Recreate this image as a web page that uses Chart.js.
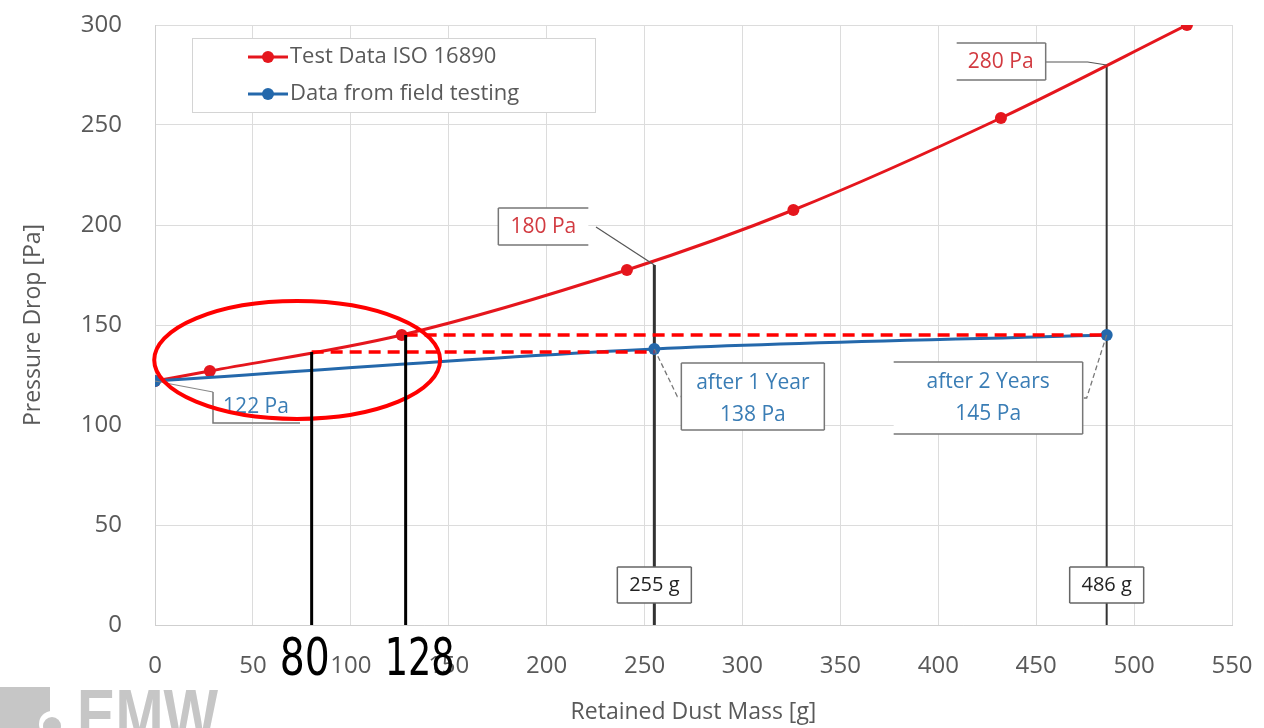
<!DOCTYPE html>
<html>
<head>
<meta charset="utf-8">
<script src="https://cdn.jsdelivr.net/npm/chart.js@4.4.1/dist/chart.umd.min.js"></script>
<style>
  html, body { margin: 0; padding: 0; background: #fff; }
</style>
</head>
<body>
<canvas id="myChart" width="1264" height="728"></canvas>
<script>
// values
const massTest = [0, 28, 126, 241, 326, 432, 527];
const dropTest = [122, 127, 145, 177.5, 207.5, 253.5, 300];
const massField = [0, 255, 486];
const dropField = [122, 138, 145];
const seriesNames = ["Test Data ISO 16890", "Data from field testing"];

// guides and labels drawn over the chart
const yearMass = [255, 486];
const yearTestDrop = [180, 280];
const yearLabels = [["after 1 Year", "138 Pa"], ["after 2 Years", "145 Pa"]];
const startDrop = 122;
const markMass = [80, 128];
const markDrop = [136.5, 145];
const markEnd = [255, 486];

const FONT = "'Open Sans', sans-serif";
const GREY = "#595959";
const RED = "#e5161d";
const BLUE = "#2468ab";
const LABEL_BLUE = "#3a7db5";
const LABEL_RED = "#d23a40";

function box(ctx, l, t, w, h, sides) {
  ctx.fillStyle = "#fff";
  ctx.fillRect(l, t, w, h);
  ctx.beginPath();
  if (sides.includes("t")) { ctx.moveTo(l, t); ctx.lineTo(l + w, t); }
  if (sides.includes("r")) { ctx.moveTo(l + w, t); ctx.lineTo(l + w, t + h); }
  if (sides.includes("b")) { ctx.moveTo(l, t + h); ctx.lineTo(l + w, t + h); }
  if (sides.includes("l")) { ctx.moveTo(l, t); ctx.lineTo(l, t + h); }
  ctx.stroke();
}

const guides = {
  id: "guides",
  beforeDatasetsDraw(chart) {
    const { ctx, scales: { x, y } } = chart;
    ctx.save();
    ctx.strokeStyle = "#333";
    yearMass.forEach((m, i) => {
      ctx.lineWidth = i === 0 ? 3 : 2;
      ctx.beginPath();
      ctx.moveTo(x.getPixelForValue(m), y.getPixelForValue(0));
      ctx.lineTo(x.getPixelForValue(m), y.getPixelForValue(yearTestDrop[i]));
      ctx.stroke();
    });
    ctx.restore();
  },
  afterDatasetsDraw(chart) {
    const { ctx, scales: { x, y } } = chart;
    ctx.save();
    ctx.textAlign = "center";
    ctx.textBaseline = "middle";

    // mass boxes on the x axis
    ctx.strokeStyle = "#666";
    ctx.lineWidth = 1.5;
    yearMass.forEach(m => {
      const px = x.getPixelForValue(m);
      box(ctx, px - 37, 567, 74, 36, "tlrb");
      ctx.fillStyle = "#222";
      ctx.font = "20px " + FONT;
      ctx.fillText(m + " g", px, 585);
    });

    // red point labels
    ctx.strokeStyle = "#555";
    ctx.lineWidth = 1.2;
    let px = x.getPixelForValue(yearMass[0]);
    let py = y.getPixelForValue(yearTestDrop[0]);
    ctx.beginPath(); ctx.moveTo(596, py - 38); ctx.lineTo(px, py); ctx.stroke();
    ctx.lineWidth = 1.5; ctx.strokeStyle = "#777";
    box(ctx, px - 156, py - 57, 90, 37, "tlb");
    ctx.fillStyle = LABEL_RED;
    ctx.font = "21px " + FONT;
    ctx.fillText(yearTestDrop[0] + " Pa", px - 111, py - 38);

    px = x.getPixelForValue(yearMass[1]);
    py = y.getPixelForValue(yearTestDrop[1]);
    ctx.strokeStyle = "#555"; ctx.lineWidth = 1.2;
    ctx.beginPath(); ctx.moveTo(px - 61, py - 3); ctx.lineTo(px - 19, py - 3); ctx.lineTo(px, py); ctx.stroke();
    ctx.lineWidth = 1.5; ctx.strokeStyle = "#777";
    box(ctx, px - 150, py - 22, 89, 37, "trb");
    ctx.fillStyle = LABEL_RED;
    ctx.fillText(yearTestDrop[1] + " Pa", px - 106, py - 3);

    // blue point labels
    px = x.getPixelForValue(0);
    py = y.getPixelForValue(startDrop);
    ctx.strokeStyle = "#888"; ctx.lineWidth = 1.2;
    ctx.beginPath(); ctx.moveTo(px, py); ctx.lineTo(px + 58, py + 11); ctx.stroke();
    ctx.strokeStyle = "#777"; ctx.lineWidth = 1.5;
    ctx.beginPath();
    ctx.moveTo(px + 58, py + 11); ctx.lineTo(px + 58, py + 42); ctx.lineTo(px + 145, py + 42);
    ctx.stroke();
    ctx.fillStyle = LABEL_BLUE;
    ctx.fillText(startDrop + " Pa", px + 101, py + 26);

    const fieldBoxes = [
      { dx: 27, dy: 14, w: 143, h: 67, sides: "tlrb", lead: -1 },
      { dx: -213, dy: 27, w: 189, h: 72, sides: "trb", lead: 1 }
    ];
    yearMass.forEach((m, i) => {
      const bx = x.getPixelForValue(m);
      const by = y.getPixelForValue(dropField[i + 1]);
      const b = fieldBoxes[i];
      const l = bx + b.dx, t = by + b.dy;
      const joinX = b.lead < 0 ? l : l + b.w;
      const midY = t + b.h / 2;
      ctx.strokeStyle = "#777"; ctx.lineWidth = 1.3;
      ctx.setLineDash([5, 3]);
      ctx.beginPath();
      ctx.moveTo(bx, by);
      ctx.lineTo(joinX + 4 * b.lead, midY);
      ctx.lineTo(joinX, midY);
      ctx.stroke();
      ctx.setLineDash([]);
      ctx.lineWidth = 1.5;
      box(ctx, l, t, b.w, b.h, b.sides);
      ctx.fillStyle = LABEL_BLUE;
      ctx.font = "21px " + FONT;
      ctx.fillText(yearLabels[i][0], l + b.w / 2, t + 20);
      ctx.fillText(yearLabels[i][1], l + b.w / 2, t + 52);
    });

    // hand-drawn marks: ellipse, dashed read-off lines, vertical marks
    ctx.strokeStyle = "#ff0000";
    ctx.lineWidth = 4;
    const cx = x.getPixelForValue(72.6), cy = y.getPixelForValue(132.5);
    const rx = x.getPixelForValue(72.6 + 73) - cx;
    const ry = cy - y.getPixelForValue(132.5 + 29.5);
    ctx.beginPath();
    ctx.ellipse(cx, cy, rx, ry, 0, 0, Math.PI * 2);
    ctx.stroke();

    ctx.lineWidth = 3.5;
    ctx.setLineDash([12, 7]);
    markMass.forEach((m, i) => {
      ctx.beginPath();
      ctx.moveTo(x.getPixelForValue(m), y.getPixelForValue(markDrop[i]));
      ctx.lineTo(x.getPixelForValue(markEnd[i]), y.getPixelForValue(markDrop[i]));
      ctx.stroke();
    });
    ctx.setLineDash([]);

    ctx.strokeStyle = "#000";
    ctx.lineWidth = 3;
    ctx.fillStyle = "#000";
    ctx.font = "52px 'Liberation Sans Narrow', 'DejaVu Sans Condensed', sans-serif";
    ctx.textBaseline = "alphabetic";
    const shift = [-7, 14];
    const widths = [50, 70];
    markMass.forEach((m, i) => {
      const mx = x.getPixelForValue(m);
      ctx.beginPath();
      ctx.moveTo(mx, y.getPixelForValue(markDrop[i]));
      ctx.lineTo(mx, y.getPixelForValue(0));
      ctx.stroke();
      ctx.fillText(String(m), mx + shift[i], 675, widths[i]);
    });
    ctx.restore();
  },
  afterDraw(chart) {
    const { ctx } = chart;
    ctx.save();
    // legend
    ctx.strokeStyle = "#d4d4d4";
    ctx.lineWidth = 1;
    ctx.fillStyle = "#fff";
    ctx.fillRect(192, 38, 403, 74);
    ctx.strokeRect(192.5, 38.5, 403, 74);
    const colors = [RED, BLUE];
    seriesNames.forEach((name, i) => {
      const ly = 57 + i * 37;
      ctx.strokeStyle = colors[i];
      ctx.fillStyle = colors[i];
      ctx.lineWidth = 3;
      ctx.beginPath(); ctx.moveTo(248, ly); ctx.lineTo(288, ly); ctx.stroke();
      ctx.beginPath(); ctx.arc(268, ly, 6, 0, Math.PI * 2); ctx.fill();
      ctx.fillStyle = GREY;
      ctx.font = "22px " + FONT;
      ctx.textAlign = "left";
      ctx.textBaseline = "middle";
      ctx.fillText(name, 290, ly);
    });
    // watermark logo
    ctx.fillStyle = "#c6c6c6";
    ctx.fillRect(0, 687, 50, 41);
    ctx.fillStyle = "#fff";
    ctx.beginPath(); ctx.arc(52, 724, 13, 0, Math.PI * 2); ctx.fill();
    ctx.fillStyle = "#c6c6c6";
    ctx.beginPath(); ctx.arc(52, 726, 9, 0, Math.PI * 2); ctx.fill();
    ctx.font = "bold 72px 'Liberation Sans', sans-serif";
    ctx.textAlign = "left";
    ctx.textBaseline = "alphabetic";
    ctx.fillText("EMW", 77, 740, 141);
    ctx.restore();
  }
};

const ctx = document.getElementById("myChart").getContext("2d");
new Chart(ctx, {
  type: "scatter",
  data: {
    datasets: [
      {
        label: seriesNames[0],
        data: massTest.map((m, i) => ({ x: m, y: dropTest[i] })),
        showLine: true,
        borderColor: RED,
        backgroundColor: RED,
        borderWidth: 3,
        pointRadius: 6,
        pointBorderWidth: 0,
        cubicInterpolationMode: "monotone",
        order: 1
      },
      {
        label: seriesNames[1],
        data: massField.map((m, i) => ({ x: m, y: dropField[i] })),
        showLine: true,
        borderColor: BLUE,
        backgroundColor: BLUE,
        borderWidth: 3,
        pointRadius: 6,
        pointBorderWidth: 0,
        cubicInterpolationMode: "monotone",
        order: 0
      }
    ]
  },
  options: {
    responsive: false,
    animation: false,
    layout: { padding: { top: 25, right: 32, left: 0, bottom: 0 } },
    plugins: { legend: { display: false }, tooltip: { enabled: false } },
    scales: {
      x: {
        type: "linear",
        min: 0,
        max: 550,
        ticks: { stepSize: 50, padding: 27, color: GREY, font: { family: FONT, size: 24 } },
        grid: { color: "#dcdcdc", drawTicks: false },
        border: { color: "#cfcfcf" },
        title: { display: true, text: "Retained Dust Mass [g]", color: GREY, font: { family: FONT, size: 23 }, padding: { top: 0, bottom: 2 } },
        afterFit: s => { s.height = 103; s.paddingLeft = 0; s.paddingRight = 0; }
      },
      y: {
        min: 0,
        max: 300,
        ticks: { stepSize: 50, padding: 33, color: GREY, font: { family: FONT, size: 24 } },
        grid: { color: "#dcdcdc", drawTicks: false },
        border: { color: "#cfcfcf" },
        title: { display: true, text: "Pressure Drop [Pa]", color: GREY, font: { family: FONT, size: 23 }, padding: { top: 20, bottom: 0 } },
        afterFit: s => { s.width = 155; s.paddingTop = 0; s.paddingBottom = 0; }
      }
    }
  },
  plugins: [guides]
});
</script>
</body>
</html>
